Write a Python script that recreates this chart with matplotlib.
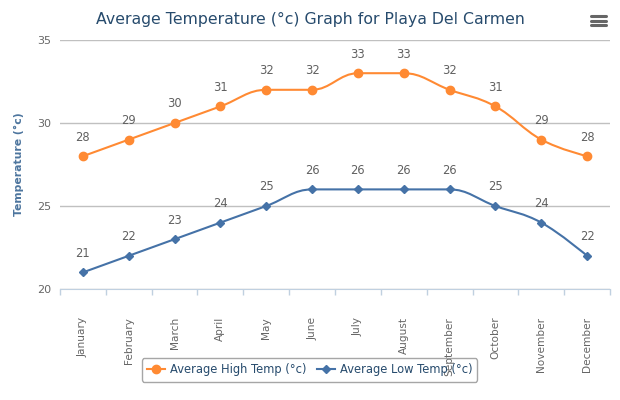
import matplotlib
matplotlib.use("Agg")
import matplotlib.pyplot as plt
from matplotlib.path import Path
from matplotlib.patches import PathPatch
import numpy as np

months = ['January', 'February', 'March', 'April', 'May', 'June', 'July',
          'August', 'September', 'October', 'November', 'December']
high_temp = [28, 29, 30, 31, 32, 32, 33, 33, 32, 31, 29, 28]
low_temp = [21, 22, 23, 24, 25, 26, 26, 26, 26, 25, 24, 22]
y_ticks = [20, 25, 30, 35]

HIGH_COLOR = '#FF8A33'
LOW_COLOR = '#4572A7'


def spline_path(xs, ys, smoothing=1.5):
    # bezier spline in the style of highcharts
    n = len(xs)
    denom = smoothing + 1
    left = [(xs[0], ys[0])] * n
    right = [(xs[0], ys[0])] * n
    for i in range(n):
        x, y = xs[i], ys[i]
        if i == 0 or i == n - 1:
            left[i] = (x, y)
            right[i] = (x, y)
            continue
        lx, ly = xs[i - 1], ys[i - 1]
        nx, ny = xs[i + 1], ys[i + 1]
        lcx = (smoothing * x + lx) / denom
        lcy = (smoothing * y + ly) / denom
        rcx = (smoothing * x + nx) / denom
        rcy = (smoothing * y + ny) / denom
        corr = ((rcy - lcy) * (rcx - x)) / (rcx - lcx) + y - rcy
        lcy += corr
        rcy += corr
        if lcy > ly and lcy > y:
            lcy = max(ly, y)
            rcy = 2 * y - lcy
        elif lcy < ly and lcy < y:
            lcy = min(ly, y)
            rcy = 2 * y - lcy
        if rcy > ny and rcy > y:
            rcy = max(ny, y)
            lcy = 2 * y - rcy
        elif rcy < ny and rcy < y:
            rcy = min(ny, y)
            lcy = 2 * y - rcy
        left[i] = (lcx, lcy)
        right[i] = (rcx, rcy)
    verts = [(xs[0], ys[0])]
    codes = [Path.MOVETO]
    for i in range(1, n):
        verts += [right[i - 1], left[i], (xs[i], ys[i])]
        codes += [Path.CURVE4] * 3
    return Path(verts, codes)


fig = plt.figure(figsize=(6.2, 4.0), dpi=100)
ax = fig.add_axes([60 / 620, 1 - 289 / 400, 550 / 620, 249 / 400])

x = np.arange(len(months))
for vals, color, marker, ms, label in [
        (high_temp, HIGH_COLOR, 'o', 6, 'Average High Temp (°c)'),
        (low_temp, LOW_COLOR, 'D', 4.3, 'Average Low Temp (°c)')]:
    ax.add_patch(PathPatch(spline_path(list(x), vals), facecolor='none',
                           edgecolor=color, lw=1.5, zorder=3))
    ax.plot(x, vals, linestyle='none', marker=marker, color=color,
            markersize=ms, zorder=4)
    ax.plot([], [], color=color, lw=1.5, marker=marker, markersize=ms, label=label)
    for xi, v in zip(x, vals):
        ax.annotate(str(v), (xi, v), xytext=(0, 9), textcoords='offset points',
                    ha='center', va='bottom', fontsize=8.3, color='#606060')

ax.set_xlim(-0.5, len(months) - 0.5)
ax.set_ylim(20, 35)
ax.set_yticks(y_ticks)
ax.set_yticklabels([str(t) for t in y_ticks])
ax.yaxis.grid(True, color='#C0C0C0', lw=1)
ax.set_axisbelow(True)
ax.tick_params(axis='y', length=0, pad=6, labelsize=8, labelcolor='#666666')

ax.set_xticks(np.arange(len(months) + 1) - 0.5)
ax.set_xticklabels([])
ax.set_xticks(x, minor=True)
ax.set_xticklabels(months, minor=True, rotation=90, fontsize=7.6, color='#666666')
ax.tick_params(axis='x', which='major', length=4, color='#C0D0E0', width=1)
ax.tick_params(axis='x', which='minor', length=0, pad=20)

for s in ['top', 'right', 'left']:
    ax.spines[s].set_visible(False)
ax.spines['bottom'].set_color('#C0D0E0')

ax.set_ylabel('Temperature (°c)', fontsize=7.8, fontweight='bold', color='#4D759E')
ax.yaxis.set_label_coords(-(60 - 24) / 550, 0.5)

fig.text(0.5, 1 - 19 / 400, 'Average Temperature (°c) Graph for Playa Del Carmen',
         ha='center', va='center', fontsize=11.3, color='#274B6D')

# menu icon
for yy in [16, 20.5, 25]:
    fig.add_artist(plt.Line2D([591 / 620, 606 / 620], [1 - yy / 400] * 2,
                              color='#666666', lw=2.2, solid_capstyle='round'))

leg = fig.legend(loc='center', bbox_to_anchor=(309.5 / 620, 1 - 370 / 400), ncol=2,
                 frameon=True, fontsize=8.3, handlelength=1.6, handletextpad=0.4,
                 columnspacing=0.9, borderpad=0.45, fancybox=True)
leg.get_frame().set_edgecolor('#909090')
leg.get_frame().set_facecolor('none')
leg.get_frame().set_linewidth(1)
leg.set_zorder(0)
for t in leg.get_texts():
    t.set_color('#274B6D')

fig.savefig('out.png', dpi=100)
